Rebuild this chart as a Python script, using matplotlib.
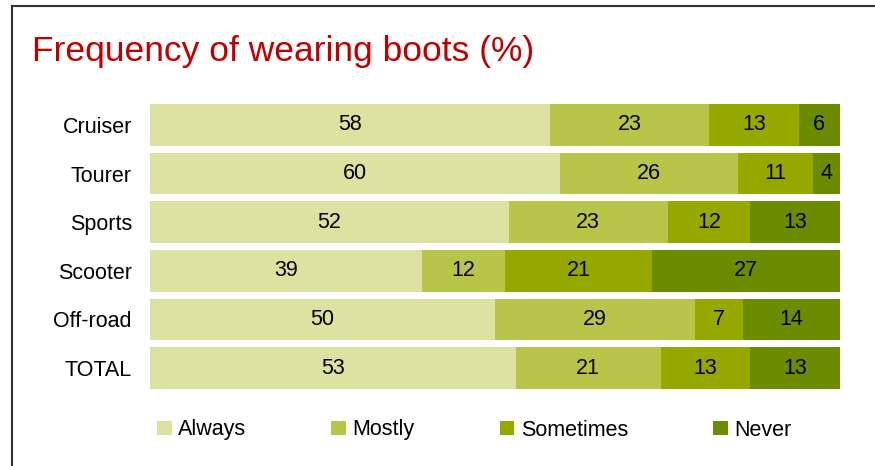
import numpy as np
import matplotlib.pyplot as plt
from matplotlib.patches import Patch
from matplotlib.lines import Line2D

plt.rcParams['font.family'] = ['Liberation Sans', 'DejaVu Sans']

categories = ['Cruiser', 'Tourer', 'Sports', 'Scooter', 'Off-road', 'TOTAL']
series = ['Always', 'Mostly', 'Sometimes', 'Never']
always = [58, 60, 52, 39, 50, 53]
mostly = [23, 26, 23, 12, 29, 21]
sometimes = [13, 11, 12, 21, 7, 13]
never = [6, 4, 13, 27, 14, 13]
colours = ['#dce3a1', '#b7c649', '#95a800', '#6b8b00']

fig = plt.figure(figsize=(8.75, 4.66), dpi=100)
ax = fig.add_axes([150/875, 1-392.3/466, 690/875, (392.3-100.7)/466])

data = np.array([always, mostly, sometimes, never], dtype=float)
totals = data.sum(axis=0)
y = np.arange(len(categories))
left = np.zeros(len(categories))
# 100% stacked: each row is scaled to its own total
for vals, col, name in zip(data, colours, series):
    share = vals / totals * 100
    ax.barh(y, share, left=left, height=0.86, color=col, label=name)
    for yi, l, w, v in zip(y, left, share, vals):
        ax.text(l + w/2, yi, str(int(v)), ha='center', va='center', fontsize=15.5, color='black')
    left += share

ax.set_xlim(0, 100)
ax.set_ylim(len(categories)-0.5, -0.5)
ax.set_yticks(y)
ax.set_yticklabels(categories, fontsize=15.5)
ax.tick_params(axis='y', length=0, pad=13)
ax.set_xticks([])
for s in ax.spines.values():
    s.set_visible(False)

fig.text(32/875, 1-51/466, 'Frequency of wearing boots (%)', color='#c00000',
         fontsize=25.5, ha='left', va='center')

handles = [Patch(facecolor=c, edgecolor='none') for c in colours]
fig.legend(handles, series, loc='center left', bbox_to_anchor=(157/875, 1-430/466),
           ncol=4, frameon=False, fontsize=15.5, handlelength=0.68, handleheight=0.68,
           handletextpad=0.3, columnspacing=3.95, borderaxespad=0, borderpad=0)

# frame lines (left and top)
fig.add_artist(Line2D([12/875, 12/875], [0, 1-6/466], color='#333333', lw=1.5))
fig.add_artist(Line2D([12/875, 1], [1-6/466, 1-6/466], color='#333333', lw=1.5))

fig.savefig('out.png', dpi=100)
